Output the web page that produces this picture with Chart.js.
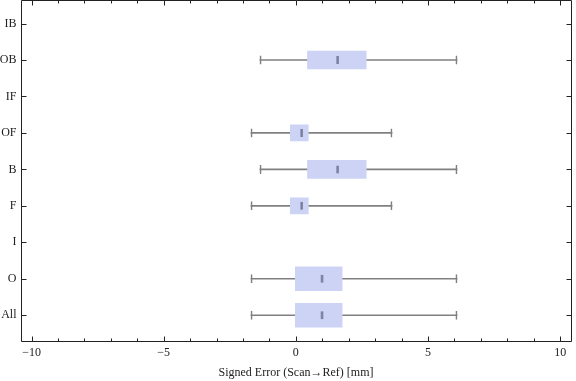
<!DOCTYPE html>
<html>
<head>
<meta charset="utf-8">
<script src="https://cdn.jsdelivr.net/npm/chart.js@4.4.1/dist/chart.umd.min.js"></script>
<style>
  html, body { margin: 0; padding: 0; background: #fff; }
  #wrap { width: 576px; height: 381px; }
</style>
</head>
<body>
<div id="wrap"><canvas id="c" width="576" height="381"></canvas></div>
<script>
// ---- data (bottom to top) ----
const categories   = ['All', 'O', 'I', 'F', 'B', 'OF', 'IF', 'OB', 'IB'];
const whiskerLow   = [-1.70, -1.70, null, -1.70, -1.36, -1.70, null, -1.36, null];
const quartile1    = [-0.02, -0.02, null, -0.21,  0.44, -0.21, null,  0.44, null];
const medians      = [ 0.99,  0.99, null,  0.22,  1.58,  0.22, null,  1.58, null];
const quartile3    = [ 1.75,  1.75, null,  0.47,  2.66,  0.47, null,  2.66, null];
const whiskerHigh  = [ 6.10,  6.10, null,  3.64,  6.10,  3.64, null,  6.10, null];
const xMajorTicks  = [-10, -5, 0, 5, 10];
const xMinorTicks  = [-9,-8,-7,-6,-4,-3,-2,-1,1,2,3,4,6,7,8,9];
const xAxisTitle   = 'Signed Error (Scan\u2192Ref) [mm]';

// ---- styling (not data) ----
const boxThicknessByCategory = { 'All': 24, 'O': 24, 'F': 16, 'OF': 16, 'B': 18, 'OB': 18 };
const BOX_COLOR = 'rgb(204,211,245)';
const WHISKER_COLOR = 'rgb(128,128,128)';
const MEDIAN_COLOR = 'rgba(105,108,140,0.75)';
const FONT = '"Liberation Serif", "Times New Roman", serif';

const yPos = (i) => i + 1;
const has = (i) => whiskerLow[i] !== null;

const whiskerData = [], medLeft = [], medRight = [];
categories.forEach((c, i) => {
  if (!has(i)) return;
  whiskerData.push({ x: [whiskerLow[i], whiskerHigh[i]], y: yPos(i) });
  medLeft.push({ x: [quartile1[i], medians[i]], y: yPos(i) });
  medRight.push({ x: [medians[i], quartile3[i]], y: yPos(i) });
});

// box datasets grouped by drawn thickness
const thicknesses = [...new Set(Object.values(boxThicknessByCategory))];
const boxDatasets = thicknesses.map(t => ({
  data: categories.map((c, i) => (has(i) && boxThicknessByCategory[c] === t)
        ? { x: [quartile1[i], quartile3[i]], y: yPos(i) } : null).filter(Boolean),
  backgroundColor: BOX_COLOR,
  borderWidth: 0,
  barThickness: t,
  grouped: false,
  order: 3
}));

const frameTicks = {
  id: 'frameTicks',
  afterDraw(chart) {
    const { ctx, chartArea: a, scales: { x, y } } = chart;
    ctx.save();
    ctx.strokeStyle = '#222';
    ctx.lineWidth = 1;
    const L = Math.round(a.left) + 0.5, R = Math.round(a.right) - 0.5;
    const T = Math.round(a.top) + 0.5, B = Math.round(a.bottom) - 0.5;
    ctx.beginPath();
    ctx.rect(L, T, R - L, B - T);
    ctx.stroke();
    ctx.beginPath();
    const xt = (v, len) => {
      const px = Math.round(x.getPixelForValue(v)) + 0.5;
      ctx.moveTo(px, B); ctx.lineTo(px, B - len);
      ctx.moveTo(px, T); ctx.lineTo(px, T + len);
    };
    xMajorTicks.forEach(v => xt(v, 5));
    xMinorTicks.forEach(v => xt(v, 3));
    categories.forEach((c, i) => {
      const py = Math.round(y.getPixelForValue(yPos(i))) + 0.5;
      ctx.moveTo(L, py); ctx.lineTo(L + 5, py);
      ctx.moveTo(R, py); ctx.lineTo(R - 5, py);
    });
    ctx.stroke();
    ctx.restore();
  }
};

new Chart(document.getElementById('c'), {
  type: 'bar',
  data: {
    datasets: [
      { // whisker line
        data: whiskerData,
        backgroundColor: WHISKER_COLOR,
        borderWidth: 0,
        barThickness: 1,
        grouped: false,
        order: 5
      },
      { // whisker caps (left/right borders of a transparent bar)
        data: whiskerData,
        backgroundColor: 'rgba(0,0,0,0)',
        borderColor: WHISKER_COLOR,
        borderSkipped: false,
        borderWidth: { left: 1, right: 1, top: 0, bottom: 0 },
        barThickness: 9,
        grouped: false,
        order: 4
      },
      ...boxDatasets,
      { // median mark, half from each side
        data: medLeft,
        backgroundColor: 'rgba(0,0,0,0)',
        borderColor: MEDIAN_COLOR,
        borderSkipped: false,
        borderWidth: { left: 0, right: 1, top: 0, bottom: 0 },
        barThickness: 8,
        grouped: false,
        order: 1
      },
      {
        data: medRight,
        backgroundColor: 'rgba(0,0,0,0)',
        borderColor: MEDIAN_COLOR,
        borderSkipped: false,
        borderWidth: { left: 1, right: 0, top: 0, bottom: 0 },
        barThickness: 8,
        grouped: false,
        order: 1
      }
    ]
  },
  options: {
    indexAxis: 'y',
    responsive: false,
    animation: false,
    devicePixelRatio: 1,
    layout: { padding: { top: 0, right: 4.5, left: 0, bottom: 0 } },
    plugins: { legend: { display: false }, tooltip: { enabled: false } },
    scales: {
      x: {
        type: 'linear',
        position: 'bottom',
        offset: false,
        min: -10.42,
        max: 10.43,
        afterBuildTicks: (s) => { s.ticks = xMajorTicks.map(v => ({ value: v })); },
        afterFit: (s) => { s.height = 39.5; s.paddingLeft = 0; s.paddingRight = 0; },
        grid: { display: false, drawTicks: false, offset: false },
        border: { display: false },
        ticks: {
          padding: 4,
          color: '#222',
          font: { family: FONT, size: 12 },
          maxRotation: 0,
          callback: (v) => (v < 0 ? '\u2212' + Math.abs(v) : String(v))
        },
        title: {
          display: true,
          text: xAxisTitle,
          color: '#222',
          font: { family: FONT, size: 12 },
          padding: { top: 0, bottom: 1 }
        }
      },
      y: {
        type: 'linear',
        offset: false,
        min: 0.28,
        max: 9.646,
        afterBuildTicks: (s) => { s.ticks = categories.map((c, i) => ({ value: yPos(i) })); },
        afterFit: (s) => { s.width = 20.5; s.paddingTop = 0; s.paddingBottom = 0; },
        grid: { display: false, drawTicks: false, offset: false },
        border: { display: false },
        ticks: {
          padding: 4,
          color: '#222',
          font: { family: FONT, size: 12 },
          callback: (v) => categories[v - 1] || ''
        }
      }
    }
  },
  plugins: [frameTicks]
});
</script>
</body>
</html>
